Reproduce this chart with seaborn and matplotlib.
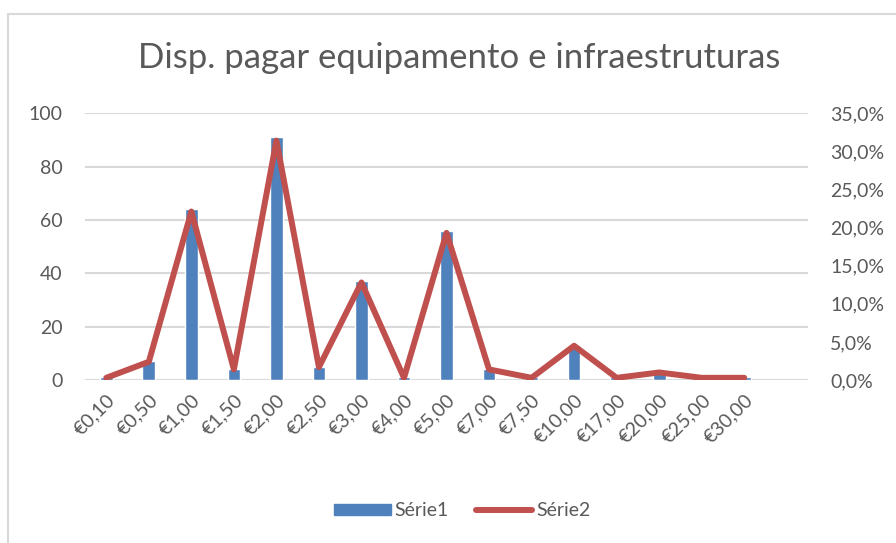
import seaborn as sns
import pandas as pd
import numpy as np
from matplotlib import pyplot as plt
from matplotlib.patches import Patch
from matplotlib.lines import Line2D
from matplotlib.ticker import FuncFormatter

precos = ['€0,10', '€0,50', '€1,00', '€1,50', '€2,00', '€2,50', '€3,00', '€4,00',
          '€5,00', '€7,00', '€7,50', '€10,00', '€17,00', '€20,00', '€25,00', '€30,00']
serie1 = [1, 7, 64, 4, 91, 5, 37, 1, 56, 4, 1, 13, 1, 3, 1, 1]
serie2 = [0.3, 2.4, 22.1, 1.4, 31.4, 1.7, 12.8, 0.3, 19.3, 1.4, 0.3, 4.5, 0.3, 1.0, 0.3, 0.3]

titulo = 'Disp. pagar equipamento e infraestruturas'
azul = '#4F81BD'
vermelho = '#C0504D'
cinza = '#595959'
grelha = '#D9D9D9'


def plot():
    df = pd.DataFrame({'preco': precos, 'Série1': serie1, 'Série2': serie2})

    fig = plt.figure(figsize=(8.96, 5.43), dpi=100)
    ax = fig.add_axes([0.0949, 0.300, 0.8069, 0.4917])

    sns.barplot(data=df, x='preco', y='Série1', color=azul, width=0.3,
                saturation=1, ax=ax, zorder=2)
    ax.set_ylim(0, 100)
    ax.set_yticks(range(0, 101, 20))
    ax.set_xlim(-0.5, len(precos) + 0.5)
    ax.grid(axis='y', color=grelha, linewidth=1.5, zorder=0)
    ax.set_axisbelow(True)
    ax.set_xlabel('')
    ax.set_ylabel('')
    for s in ax.spines.values():
        s.set_visible(False)
    ax.tick_params(axis='both', length=0, labelsize=14, labelcolor=cinza)
    ax.tick_params(axis='y', pad=16)
    plt.setp(ax.get_xticklabels(), rotation=45, ha='right', rotation_mode='anchor')
    ax.tick_params(axis='x', pad=8)

    ax2 = ax.twinx()
    sns.lineplot(data=df, x='preco', y='Série2', color=vermelho, linewidth=4.3,
                 ax=ax2, solid_capstyle='round', solid_joinstyle='round')
    ax2.set_ylim(0, 35)
    ax2.set_yticks(np.arange(0, 36, 5))
    ax2.yaxis.set_major_formatter(FuncFormatter(lambda v, p: f'{v:.1f}%'.replace('.', ',')))
    ax2.set_ylabel('')
    for s in ax2.spines.values():
        s.set_visible(False)
    ax2.tick_params(axis='y', length=0, labelsize=14, labelcolor=cinza, pad=16)
    ax2.set_xlim(-0.5, len(precos) + 0.5)

    fig.text(0.512, 0.893, titulo, ha='center', va='center', fontsize=25, color=cinza)

    handles = [Patch(color=azul), Line2D([0], [0], color=vermelho, linewidth=4.3,
                                         solid_capstyle='round')]
    fig.legend(handles, ['Série1', 'Série2'], loc='center', bbox_to_anchor=(0.516, 0.059),
               ncol=2, frameon=False, fontsize=14, labelcolor=cinza,
               handlelength=2.9, handleheight=0.5, handletextpad=0.2, columnspacing=1.4)

    # moldura da área do gráfico
    fig.add_artist(Line2D([8 / 896, 8 / 896], [0, 1 - 14 / 543], color=grelha, linewidth=1.5,
                          transform=fig.transFigure))
    fig.add_artist(Line2D([8 / 896, 1], [1 - 14 / 543, 1 - 14 / 543], color=grelha,
                          linewidth=1.5, transform=fig.transFigure))

    fig.savefig('out.png', dpi=100, facecolor='white')


if __name__ == '__main__':
    sns.set_style('white')
    plt.rcParams['font.family'] = ['Lato', 'DejaVu Sans']
    plot()
